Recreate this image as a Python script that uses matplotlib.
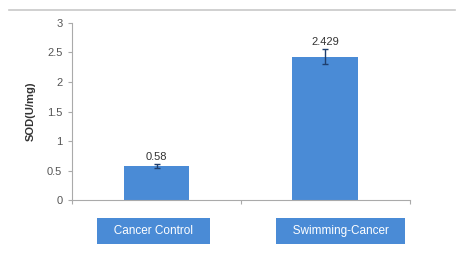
import matplotlib.pyplot as plt
from matplotlib.lines import Line2D

groups = ['Cancer Control', 'Swimming-Cancer']
sod = [0.58, 2.429]
err = [0.03, 0.13]
value_labels = ['0.58', '2.429']

blue = '#4a8bd6'
plt.rcParams['font.family'] = ['Liberation Sans', 'DejaVu Sans']

fig = plt.figure(figsize=(4.62, 2.70), dpi=100)
ax = fig.add_axes([0.156, 0.259, 0.731, 0.656])

x = range(len(groups))
ax.bar(x, sod, width=0.39, color=blue, yerr=err, capsize=2.5,
       error_kw=dict(ecolor='#1f3f6e', elinewidth=1, capthick=1))
for xi, v, lab, e in zip(x, sod, value_labels, err):
    ax.text(xi, v + e + 0.04, lab, ha='center', va='bottom', fontsize=8, color='#333333')

ax.set_xlim(-0.5, 1.5)
ax.set_ylim(0, 3)
ax.set_yticks([0, 0.5, 1, 1.5, 2, 2.5, 3])
ax.set_yticklabels(['0', '0.5', '1', '1.5', '2', '2.5', '3'], fontsize=8, color='#555555')
ax.set_xticks([-0.5, 0.5, 1.5])
ax.set_xticklabels(['', '', ''])
ax.tick_params(axis='x', length=3, color='#aaaaaa')
ax.tick_params(axis='y', length=3, color='#aaaaaa', pad=4)
for s in ['top', 'right']:
    ax.spines[s].set_visible(False)
ax.spines['left'].set_color('#aaaaaa')
ax.spines['bottom'].set_color('#aaaaaa')
ax.set_ylabel('SOD(U/mg)', fontsize=8, fontweight='bold', color='#333333', labelpad=8)

# category labels in filled boxes under the axis
label_shift = [-0.02, 0.09]
for xi, g, dx in zip(x, groups, label_shift):
    ax.text(xi + dx, -0.52, '   ' + g + '   ', ha='center', va='center', fontsize=8.5,
            color='white', clip_on=False,
            bbox=dict(boxstyle='square,pad=0.6', facecolor=blue, edgecolor='none'))

fig.add_artist(Line2D([0.02, 0.985], [0.963, 0.963], color='#c8c8c8', lw=1.2))

fig.savefig('out.png', dpi=100)
